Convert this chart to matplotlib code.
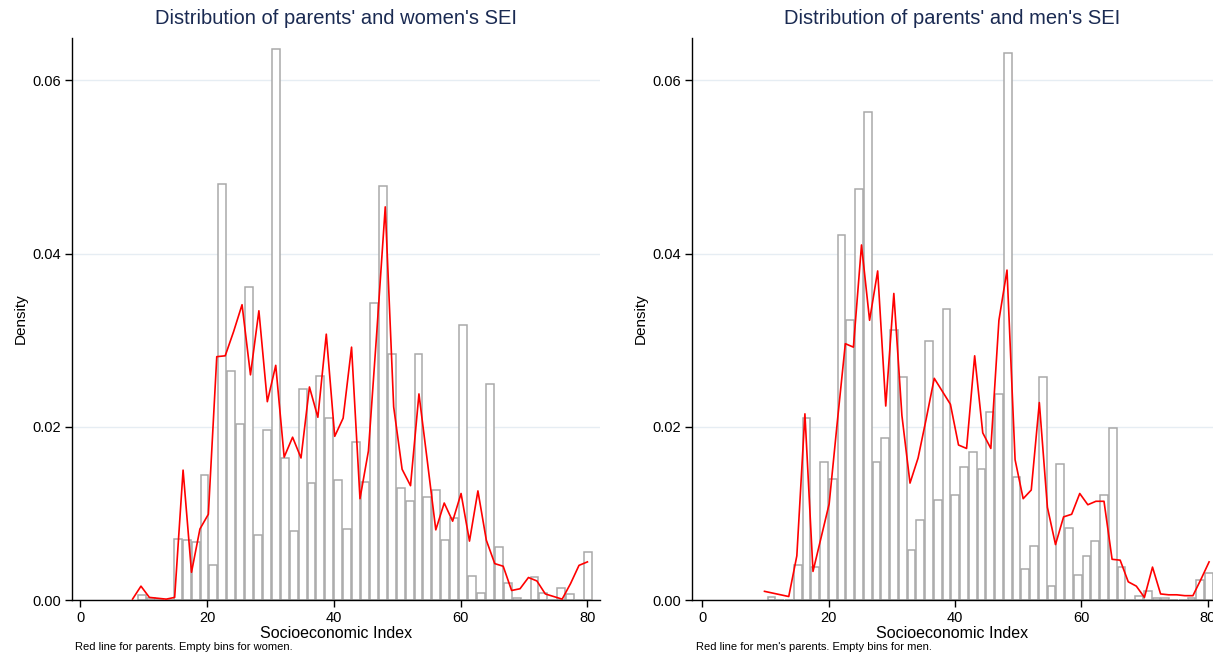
import numpy as np
import matplotlib
matplotlib.use("Agg")
import matplotlib.pyplot as plt

plt.rcParams['font.family'] = ['Liberation Sans', 'DejaVu Sans']

# ---- data ----
women_bin_start = 9.05
women_bin_width = 1.407
women_density = [0.0006, 0.0002, 0, 0, 0.00705, 0.00693, 0.00674, 0.01448, 0.00404, 0.04805,
                 0.02641, 0.02033, 0.03619, 0.0075, 0.01967, 0.0636, 0.01636, 0.00801, 0.02437, 0.01351,
                 0.02583, 0.02106, 0.01386, 0.00816, 0.01825, 0.01367, 0.03434, 0.04786, 0.02841, 0.0129,
                 0.01138, 0.0284, 0.01195, 0.01265, 0.00695, 0.0095, 0.0318, 0.00275, 0.00078, 0.0249,
                 0.0061, 0.002, 0.0002, 0, 0.00264, 0.0008, 0, 0.00137, 0.00064, 0, 0.00553]

women_par_start = 8.25
women_par_step = 1.329
women_parents = [0.0001, 0.0016, 0.0003, 0.0002, 0.0001, 0.0003, 0.015, 0.0032, 0.0082, 0.0099,
                 0.0281, 0.0282, 0.031, 0.0341, 0.026, 0.0334, 0.0229, 0.0271, 0.0165, 0.0188,
                 0.0164, 0.0246, 0.0211, 0.0307, 0.0189, 0.021, 0.0292, 0.0117, 0.0172, 0.031,
                 0.0454, 0.0223, 0.0151, 0.0132, 0.0238, 0.016, 0.0081, 0.0112, 0.0091, 0.0123,
                 0.0068, 0.0126, 0.0069, 0.0042, 0.0039, 0.0011, 0.0013, 0.0026, 0.0022, 0.0007,
                 0.0004, 0.0001, 0.0019, 0.004, 0.0044]

men_bin_start = 10.25
men_bin_width = 1.385
men_density = [0.0003, 0, 0, 0.00404, 0.021, 0.00377, 0.0159, 0.01396, 0.0421, 0.03235,
               0.0475, 0.0564, 0.0159, 0.0187, 0.0312, 0.0258, 0.00577, 0.00921, 0.0299, 0.0115,
               0.03366, 0.0121, 0.0154, 0.01706, 0.0151, 0.02175, 0.02374, 0.0632, 0.01415, 0.00363,
               0.00629, 0.0257, 0.00162, 0.01575, 0.00826, 0.0029, 0.00513, 0.00683, 0.01208, 0.01984,
               0.00378, 0, 0.0005, 0.001, 0.0002, 0.0002, 0, 0, 0.00027, 0.00228, 0.00313]

men_par_start = 9.82
men_par_step = 1.28
men_parents = [0.001, 0.0008, 0.0006, 0.0004, 0.0051, 0.0215, 0.0033, 0.0072, 0.0111, 0.0205,
               0.0296, 0.0292, 0.041, 0.0323, 0.038, 0.0224, 0.0354, 0.0213, 0.0135, 0.0164,
               0.0209, 0.0256, 0.0241, 0.0226, 0.0179, 0.0175, 0.0282, 0.0193, 0.0175, 0.0323,
               0.0381, 0.0162, 0.0117, 0.0127, 0.0228, 0.0107, 0.0064, 0.0096, 0.0099, 0.0123,
               0.011, 0.0114, 0.0114, 0.0047, 0.0046, 0.0021, 0.0016, 0.0003, 0.0038, 0.0007,
               0.0006, 0.0006, 0.0005, 0.0005, 0.0024, 0.0044]

titles = ["Distribution of parents' and women's SEI", "Distribution of parents' and men's SEI"]
notes = ["Red line for parents. Empty bins for women.", "Red line for men's parents. Empty bins for men."]
xticks = [0, 20, 40, 60, 80]
yticks = [0.00, 0.02, 0.04, 0.06]
ytick_labels = ["0.00", "0.02", "0.04", "0.06"]

# ---- figure ----
W, H = 1213, 658
fig = plt.figure(figsize=(W / 100, H / 100), dpi=100)
fig.patch.set_facecolor('white')

panels = [
    dict(rect=[72 / W, 1 - 600 / H, (600 - 72) / W, (600 - 38) / H], xlim=(-1.3, 82.0),
         bstart=women_bin_start, bw=women_bin_width, dens=women_density,
         pstart=women_par_start, pstep=women_par_step, par=women_parents,
         title=titles[0], note=notes[0], note_x=75 / W),
    dict(rect=[692 / W, 1 - 600 / H, (1213 - 692) / W, (600 - 38) / H], xlim=(-1.66, 80.84),
         bstart=men_bin_start, bw=men_bin_width, dens=men_density,
         pstart=men_par_start, pstep=men_par_step, par=men_parents,
         title=titles[1], note=notes[1], note_x=696 / W),
]

title_color = '#1a2a52'
for p in panels:
    ax = fig.add_axes(p['rect'])
    ax.set_facecolor('white')
    dens = np.array(p['dens'])
    lefts = p['bstart'] + p['bw'] * np.arange(len(dens))
    gap = 0.16
    ax.bar(lefts + gap / 2, dens, width=p['bw'] - gap, align='edge',
           facecolor='white', edgecolor='#a9a9a9', linewidth=1.1, zorder=2)
    par = np.array(p['par'])
    px = p['pstart'] + p['pstep'] * np.arange(len(par))
    ax.plot(px, par, color='#ff0000', linewidth=1.2, zorder=3)

    ax.set_xlim(*p['xlim'])
    ax.set_ylim(0, 0.0649)
    ax.set_xticks(xticks)
    ax.set_yticks(yticks)
    ax.set_yticklabels(ytick_labels)
    ax.grid(axis='y', color='#e6edf3', linewidth=1.0, zorder=0)
    ax.set_axisbelow(True)
    for s in ['top', 'right']:
        ax.spines[s].set_visible(False)
    for s in ['left', 'bottom']:
        ax.spines[s].set_color('black')
        ax.spines[s].set_linewidth(1.0)
    ax.tick_params(axis='both', direction='out', length=5, width=1.0, color='black',
                   labelsize=10.5, labelcolor='black', pad=3)
    ax.set_xlabel('Socioeconomic Index', fontsize=11.5, labelpad=1)
    ax.set_ylabel('Density', fontsize=11, labelpad=3)
    ax.set_title(p['title'], fontsize=14.5, color=title_color, pad=10)
    fig.text(p['note_x'], 1 - 650 / H, p['note'], fontsize=8, ha='left', va='baseline')

fig.savefig('out.png', dpi=100, facecolor='white')
